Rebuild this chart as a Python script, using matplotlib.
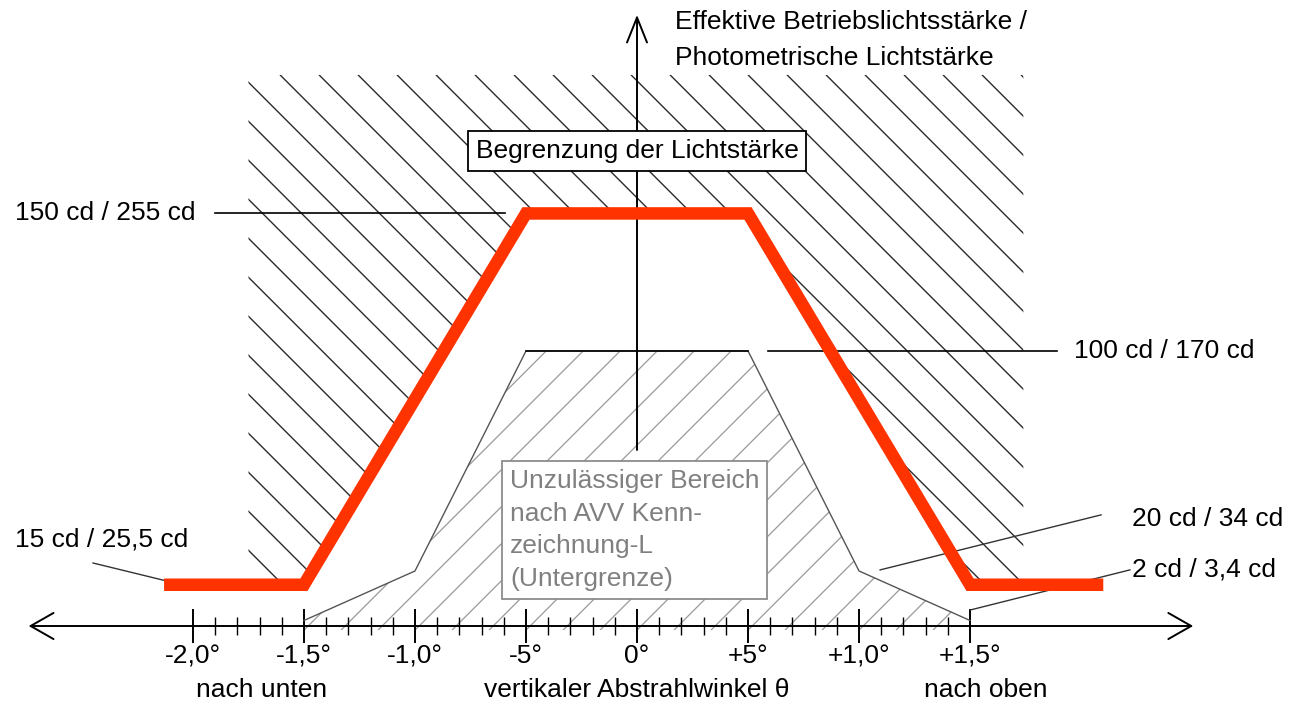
import numpy as np
import matplotlib
matplotlib.use('Agg')
import matplotlib.pyplot as plt
from matplotlib.patches import Polygon
from matplotlib.collections import LineCollection

plt.rcParams['font.family'] = ['Liberation Sans', 'DejaVu Sans']

# Winkel in Grad, Lichtstaerke in cd
red_x = [-21.3, -15, -5, 5, 15, 21.0]
red_y = [15, 15, 150, 150, 15, 15]
low_x = [-15, -10, -5, 5, 10, 15]
low_y = [2, 20, 100, 100, 20, 2]
major_ticks = [-20, -15, -10, -5, 0, 5, 10, 15]
tick_labels = ['-2,0°', '-1,5°', '-1,0°', '-5°', '0°', '+5°', '+1,0°', '+1,5°']
minor_ticks = list(range(-20, 16))

W, H = 1296, 707
fig = plt.figure(figsize=(W / 100, H / 100), dpi=100)
ax = fig.add_axes([0, 0, 1, 1])
xmin, xmax = -28.69, 29.68
ymin, ymax = -29.45, 227.6
ax.set_xlim(xmin, xmax)
ax.set_ylim(ymin, ymax)
sx = W / (xmax - xmin)   # px per degree
sy = H / (ymax - ymin)   # px per cd
FS = 19


def hatch(px, py, direction, step_px, phase, color, lw, z):
    patch = Polygon(np.column_stack([px, py]), closed=True, fc='none', ec='none')
    ax.add_patch(patch)
    y0, y1 = min(py), max(py)
    run = (y1 - y0) * sy / sx
    step = step_px / sx
    n = int((max(px) - min(px) + 2 * run) / step) + 4
    segs = []
    for c in phase + step * np.arange(-n, n):
        if direction == '\\':
            segs.append([(c, y1), (c + run, y0)])
        else:
            segs.append([(c, y0), (c + run, y1)])
    lc = LineCollection(segs, colors=color, linewidths=lw, zorder=z)
    ax.add_collection(lc)
    lc.set_clip_path(patch)


# oberer (unzulaessiger) Bereich oberhalb der roten Linie
xl, xr, top = -17.5, 17.4, 200.4
up_x = [xl] + list(np.clip(red_x, xl, xr)) + [xr]
up_y = [top] + red_y + [top]
hatch(up_x, up_y, '\\', 39, -16.08, '#2b2b2b', 1.0, 1)

# unterer Bereich unter der Untergrenze
lo_x = low_x + [15, -15]
lo_y = low_y + [-1.5, -1.5]
hatch(lo_x, lo_y, '/', 37, 0.0, '#999999', 0.9, 1)

# Kurven
ax.plot(low_x, low_y, color='#555555', lw=1.0, zorder=3)
ax.plot(low_x[2:4], low_y[2:4], color='black', lw=1.2, zorder=3)
ax.plot(red_x, red_y, color='#ff3300', lw=9, solid_joinstyle='miter',
        solid_capstyle='butt', zorder=6)

# Hinweislinien
ax.plot([-19.0, -5.95], [150, 150], color='black', lw=1.2, zorder=3)
ax.plot([5.9, 18.9], [100, 100], color='black', lw=1.2, zorder=3)
ax.plot([-24.5, -21.2], [22.9, 16.4], color='#333333', lw=1.0, zorder=3)
ax.plot([10.95, 20.9], [20.4, 40.4], color='#333333', lw=1.0, zorder=3)
ax.plot([15.0, 22.2], [5.8, 20.4], color='#333333', lw=1.0, zorder=3)

ax.text(-28.0, 150, '150 cd / 255 cd', fontsize=FS, va='center', ha='left')
ax.text(19.7, 100, '100 cd / 170 cd', fontsize=FS, va='center', ha='left')
ax.text(22.3, 38.9, '20 cd / 34 cd', fontsize=FS, va='center', ha='left')
ax.text(22.3, 20.4, '2 cd / 3,4 cd', fontsize=FS, va='center', ha='left')
ax.text(-28.0, 31.3, '15 cd / 25,5 cd', fontsize=FS, va='center', ha='left')

# Achsen mit Pfeilen
ax.annotate('', xy=(0, 222.2), xytext=(0, 64),
            arrowprops=dict(arrowstyle='->,head_length=1.0,head_width=0.4',
                            lw=1.4, color='black', shrinkA=0, shrinkB=0,
                            mutation_scale=18), zorder=5)
ax.annotate('', xy=(25.05, 0), xytext=(-27.4, 0),
            arrowprops=dict(arrowstyle='<->,head_length=1.0,head_width=0.57',
                            lw=1.4, color='black', shrinkA=0, shrinkB=0,
                            mutation_scale=16.5), zorder=5)

for s in ['top', 'left', 'right']:
    ax.spines[s].set_visible(False)
ax.spines['bottom'].set_position(('data', 0))
ax.spines['bottom'].set_color('none')
ax.set_yticks([])
ax.set_xticks(major_ticks)
ax.set_xticklabels(tick_labels)
ax.set_xticks(minor_ticks, minor=True)
ax.tick_params(which='major', direction='inout', length=24, width=1.4,
               labelsize=FS, pad=1)
ax.tick_params(which='minor', direction='inout', length=13, width=1.0)

ax.text(0, 172.7, 'Begrenzung der Lichtstärke', fontsize=FS, ha='center',
        va='center', zorder=8,
        bbox=dict(boxstyle='square,pad=0.3', fc='white', ec='black', lw=1.3))
ax.text(-5.72, 57.0, 'Unzulässiger Bereich\nnach AVV Kenn-\nzeichnung-L\n(Untergrenze)',
        fontsize=FS, ha='left', va='top', color='#808080', linespacing=1.45,
        zorder=8,
        bbox=dict(boxstyle='square,pad=0.3', fc='white', ec='#8c8c8c', lw=1.3))
ax.text(1.71, 224.0, 'Effektive Betriebslichtsstärke /\nPhotometrische Lichtstärke',
        fontsize=FS, ha='left', va='top', linespacing=1.65)

ax.text(-16.9, -23.3, 'nach unten', fontsize=FS, ha='center', va='center')
ax.text(0, -23.3, 'vertikaler Abstrahlwinkel θ', fontsize=FS, ha='center', va='center')
ax.text(15.7, -23.3, 'nach oben', fontsize=FS, ha='center', va='center')

fig.savefig('out.png', dpi=100, facecolor='white')
